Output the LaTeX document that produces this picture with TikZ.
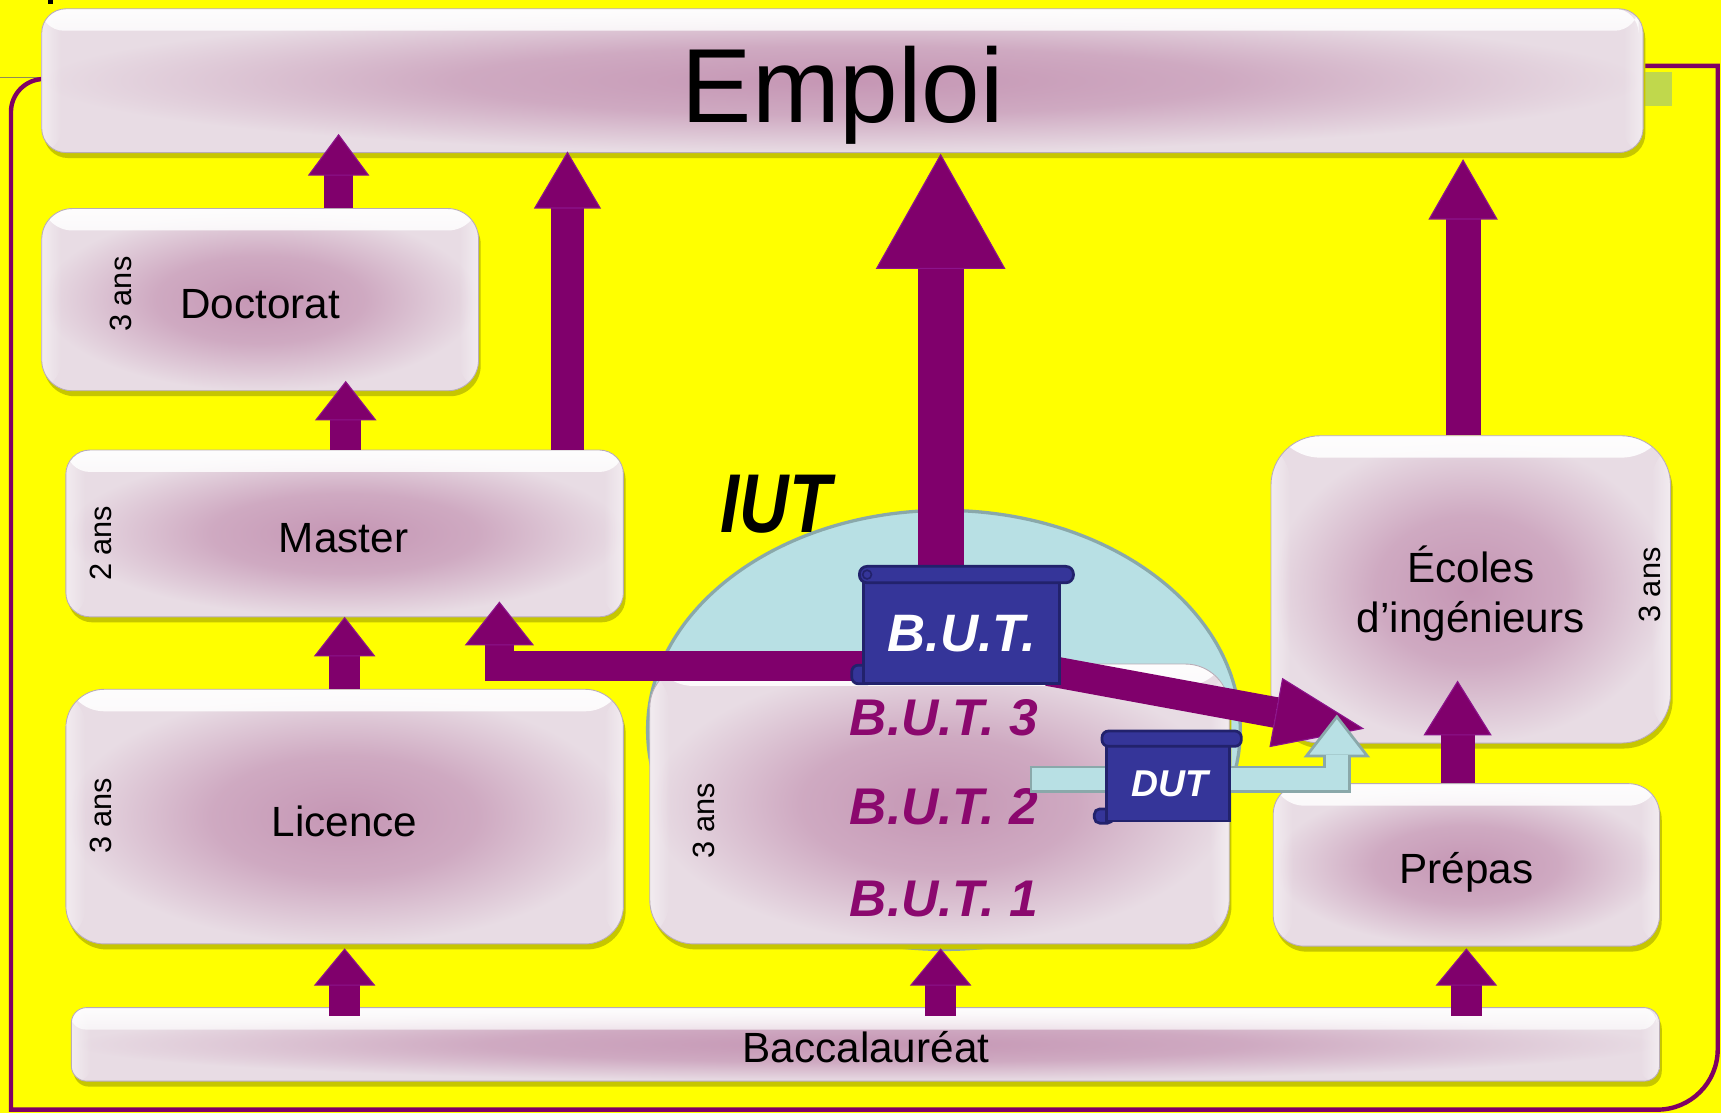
\documentclass[tikz,border=0pt]{standalone}
\usepackage{fontspec}
\setmainfont{Liberation Sans}
\usetikzlibrary{arrows.meta,shadows,fadings,calc,shapes.geometric}
\definecolor{bgyellow}{RGB}{255,255,0}
\definecolor{framepurple}{RGB}{128,0,100}
\definecolor{arrowpurple}{RGB}{128,0,108}
\definecolor{arrowedge}{RGB}{140,20,140}
\definecolor{textpurple}{RGB}{139,8,110}
\definecolor{boxlight}{RGB}{232,220,228}
\definecolor{boxmid}{RGB}{197,150,180}
\definecolor{boxedge}{RGB}{185,172,182}
\definecolor{shadowyellow}{RGB}{198,198,0}
\definecolor{iutblue}{RGB}{184,224,228}
\definecolor{iutgray}{RGB}{138,168,170}
\definecolor{navy}{RGB}{53,53,153}
\definecolor{darknavy}{RGB}{34,34,108}
\definecolor{greensq}{RGB}{192,216,76}
\pgfdeclareradialshading{boxglow}{\pgfpoint{0bp}{0bp}}{color(0bp)=(boxmid); color(12bp)=(boxmid!72!boxlight); color(25bp)=(boxlight); color(50bp)=(boxlight)}
\tikzfading[name=topglow, top color=transparent!0, bottom color=transparent!100]
\tikzset{
  glossbox/.style={rectangle, rounded corners=#1, shade, shading=boxglow, draw=boxedge, line width=0.8pt, inner sep=0pt,
    drop shadow={shadow xshift=2pt, shadow yshift=-5pt, fill=shadowyellow, opacity=1},
    path picture={
      \fill[white, path fading=topglow, fill opacity=0.95] (path picture bounding box.north west) rectangle ([yshift=-20pt]path picture bounding box.north east);
      \fill[white, path fading=east, fill opacity=0.45] (path picture bounding box.north west) rectangle ([xshift=18pt]path picture bounding box.south west);
      \fill[white, path fading=west, fill opacity=0.45] (path picture bounding box.north east) rectangle ([xshift=-18pt]path picture bounding box.south east);
    }},
  boxtext/.style={anchor=base, inner sep=0pt, font=\fontsize{38.5}{46}\selectfont},
  anstext/.style={rotate=90, inner sep=0pt, font=\fontsize{28}{32}\selectfont},
  buttext/.style={anchor=base, inner sep=0pt, text=textpurple, font=\fontsize{47}{52}\selectfont\bfseries\itshape},
  scrolltext/.style={anchor=base, inner sep=0pt, text=white, font=\bfseries\itshape},
  scrollbody/.style={rectangle, fill=navy, draw=darknavy, line width=2.5pt, inner sep=0pt},
  scrollpart/.style={fill=navy, draw=darknavy, line width=2.5pt},
  parrow/.style={draw=arrowpurple, line join=miter},
}
\begin{document}
\begin{tikzpicture}[x=1pt,y=-1pt]
% background and frame
\fill[bgyellow] (0,0) rectangle (1568,1014);
\useasboundingbox (0,0) rectangle (1568,1014);
\fill[black] (44,0) rectangle (48,4);
\draw[gray!60!olive, line width=1pt] (0,71) -- (38,71);
\fill[greensq] (1498,66) rectangle (1523,97);
\draw[framepurple, line width=4pt] (1497,60) -- (1565,60) -- (1565,956) arc[start angle=0,end angle=90,radius=55] -- (10,1011) -- (10,102) arc[start angle=180,end angle=270,radius=30] -- (40,72);

% IUT ellipse
\node[ellipse, fill=iutblue, draw=iutgray, line width=3pt, minimum width=540pt, minimum height=400pt, inner sep=0pt] (iutell) at (860,665) {};

% boxes
\node[glossbox=22pt, minimum width=1459pt, minimum height=131pt] (emploi) at (767.5,73.5) {};
\node[glossbox=28pt, minimum width=398pt, minimum height=166pt] (doct) at (237,273) {};
\node[glossbox=22pt, minimum width=508pt, minimum height=152pt] (master) at (314,486) {};
\node[glossbox=35pt, minimum width=508pt, minimum height=232pt] (lic) at (314,744) {};
\node[glossbox=40pt, minimum width=528pt, minimum height=255pt] (iutbox) at (856,732.5) {};
\node[glossbox=45pt, minimum width=364pt, minimum height=280pt] (ecoles) at (1340,537) {};
\node[glossbox=28pt, minimum width=352pt, minimum height=148pt] (prepas) at (1336,788) {};
\node[glossbox=14pt, minimum width=1447pt, minimum height=67pt] (bac) at (788.5,951.5) {};

% box texts
\node[anchor=base, inner sep=0pt, font=\fontsize{96}{100}\selectfont] (emploit) at (768,112) {Emploi};
\node[boxtext] (doctt) at (237,290) {Doctorat};
\node[boxtext] (mastert) at (313,503) {Master};
\node[boxtext] (lict) at (314,762) {Licence};
\node[boxtext] (ecolest1) at (1340,531) {Écoles};
\node[boxtext] (ecolest2) at (1340,576) {d’ingénieurs};
\node[boxtext] (prepast) at (1336,805) {Prépas};
\node[boxtext] (bact) at (789,968) {Baccalauréat};
\node[anstext] (ans1) at (110,268) {3 ans};
\node[anstext] (ans2) at (92,495) {2 ans};
\node[anstext] (ans3) at (92,743) {3 ans};
\node[anstext] (ans4) at (641,748) {3 ans};
\node[anstext] (ans5) at (1503,533) {3 ans};
\node[buttext] (but3) at (860,670) {B.U.T. 3};
\node[buttext] (but2) at (860,751) {B.U.T. 2};
\node[buttext] (but1) at (860,835) {B.U.T. 1};

% scroll centres
\path (876,575) coordinate (butc) (1064,712) coordinate (dutc);

% arrow tip coordinates
\coordinate (t1) at (308.5,122);
\coordinate (t2) at (517,138);
\coordinate (t3) at (857,140);
\coordinate (t4) at (1333,145);
\coordinate (t5) at (315,347);
\coordinate (t6) at (314,562);
\coordinate (t7) at (314,864);
\coordinate (t8) at (857,864);
\coordinate (t9) at (1336,864);
\coordinate (t10) at (1328,620);
\coordinate (t11) at (455,548);
\coordinate (t12) at (1243,664);
\coordinate (t13) at (1218,651);

% purple arrows
\draw[parrow, line width=27pt, -{Triangle[width=56pt,length=38pt,line width=1pt,color=arrowedge,fill=arrowpurple]}] (doct.north -| t1) -- (t1);
\draw[parrow, line width=30pt, -{Triangle[width=61pt,length=52pt,line width=1pt,color=arrowedge,fill=arrowpurple]}] (master.north -| t2) -- (t2);
\draw[parrow, line width=42pt, -{Triangle[width=118pt,length=105pt,line width=1pt,color=arrowedge,fill=arrowpurple]}] ($(butc -| t3)+(0,-45)$) -- (t3);
\draw[parrow, line width=32pt, -{Triangle[width=63pt,length=55pt,line width=1pt,color=arrowedge,fill=arrowpurple]}] (ecoles.north -| t4) -- (t4);
\draw[parrow, line width=28pt, -{Triangle[width=56pt,length=36pt,line width=1pt,color=arrowedge,fill=arrowpurple]}] (master.north -| t5) -- (t5);
\draw[parrow, line width=28pt, -{Triangle[width=56pt,length=36pt,line width=1pt,color=arrowedge,fill=arrowpurple]}] (lic.north -| t6) -- (t6);
\draw[parrow, line width=28pt, -{Triangle[width=56pt,length=34pt,line width=1pt,color=arrowedge,fill=arrowpurple]}] ($(bac.north -| t7)+(0,8)$) -- (t7);
\draw[parrow, line width=28pt, -{Triangle[width=56pt,length=34pt,line width=1pt,color=arrowedge,fill=arrowpurple]}] ($(bac.north -| t8)+(0,8)$) -- (t8);
\draw[parrow, line width=28pt, -{Triangle[width=56pt,length=34pt,line width=1pt,color=arrowedge,fill=arrowpurple]}] ($(bac.north -| t9)+(0,8)$) -- (t9);
\draw[parrow, line width=31pt, -{Triangle[width=62pt,length=50pt,line width=1pt,color=arrowedge,fill=arrowpurple]}] (prepas.north -| t10) -- (t10);
\draw[parrow, line width=27pt, -{Triangle[width=63pt,length=40pt,line width=1pt,color=arrowedge,fill=arrowpurple]}] ($(butc)+(-79,32)$) -| (t11);
\draw[parrow, line width=28pt, -{Triangle[width=64pt,length=82pt,line width=1pt,color=arrowedge,fill=arrowpurple]}] ($(butc)+(79,36)$) -- (t12);

% DUT arrow (light blue)
\coordinate (ds) at ($(dutc)+(-126,-2)$);
\draw[iutgray, line width=25pt, line join=miter, -{Triangle[width=60pt,length=39pt,line width=2.5pt,fill=iutblue,color=iutgray]}] (ds) -| (t13);
\draw[iutblue, line width=20pt, line join=miter] ($(ds)+(2.5,0)$) -| ($(t13)+(0,37)$);

% B.U.T. scroll
\draw[scrollpart, rounded corners=6pt] (776,606) rectangle (796,623);
\node[scrollbody, minimum width=178pt, minimum height=95pt] (butscroll) at (butc) {};
\draw[scrollpart, rounded corners=7pt] (783,516) rectangle (978,531);
\draw[darknavy, line width=1.5pt] (790,523.5) circle[radius=4];
\node[scrolltext, font=\fontsize{48}{52}\selectfont\bfseries\itshape] (butt) at (876,594) {B.U.T.};

% DUT scroll
\draw[scrollpart, rounded corners=5pt] (997,737) rectangle (1014,750);
\node[scrollbody, minimum width=112pt, minimum height=72pt] (dutscroll) at (dutc) {};
\draw[scrollpart, rounded corners=6pt] (1004,666) rectangle (1131,680);
\node[scrolltext, font=\fontsize{34}{38}\selectfont\bfseries\itshape] (dutt) at (1066,726) {DUT};

% IUT label
\node[anchor=base, inner sep=0pt, xscale=0.82, font=\fontsize{76}{80}\selectfont\bfseries\itshape] (iutt) at (707,485) {IUT};
\end{tikzpicture}
\end{document}
